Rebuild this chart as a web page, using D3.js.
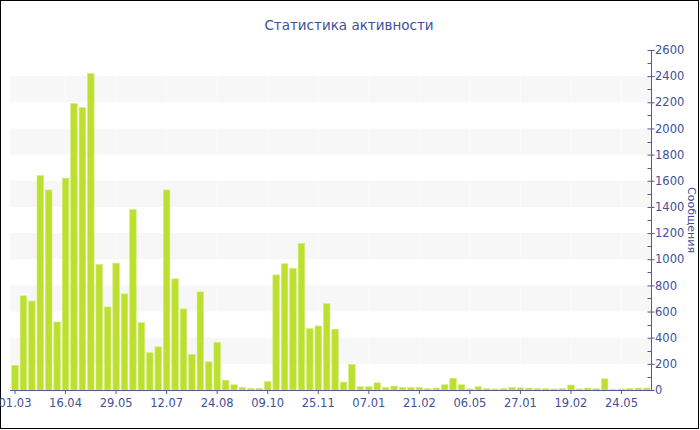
<!DOCTYPE html>
<html><head><meta charset="utf-8">
<script src="https://cdn.jsdelivr.net/npm/d3@7"></script>
<style>body{margin:0;background:#fff}svg{display:block}</style>
</head><body>
<script>
const values = [190,720,680,1640,1530,520,1620,2190,2160,2420,960,635,970,735,1380,515,285,330,1530,850,620,270,750,215,365,75,40,20,12,12,65,880,965,930,1120,470,490,660,465,60,195,25,25,55,20,30,20,18,20,10,15,40,90,40,8,25,10,8,12,20,17,15,12,10,8,12,38,8,15,10,85,5,8,12,15,15];
const tickLabels = ["01.03","16.04","29.05","12.07","24.08","09.10","25.11","07.01","21.02","06.05","27.01","19.02","24.05"];
const tickEvery = 6;
const yTicks = [0,200,400,600,800,1000,1200,1400,1600,1800,2000,2200,2400,2600];
const title = "Статистика активности";
const yTitle = "Сообщения";

const W = 700, H = 430;
const axisColor = "#4b5b9b", textColor = "#40519a";
const svg = d3.select("body").append("svg").attr("width", W).attr("height", H);
svg.append("rect").attr("x",0.5).attr("y",0.5).attr("width",698).attr("height",428)
  .attr("fill","#fff").attr("stroke","#000");

const cats = values.map((v,i)=>i);
const x = d3.scaleBand().domain(cats).range([10.8, 651]).paddingInner(0.22).paddingOuter(0.11);
const y = d3.scaleLinear().domain([0,2600]).range([390,50]);

// grid bands
const bands = [];
for (let i=0;i<yTicks.length-1;i++) if (i%2===1) bands.push([yTicks[i], yTicks[i+1]]);
svg.append("g").selectAll("rect").data(bands).join("rect")
  .attr("x",10).attr("width",641)
  .attr("y",d=>y(d[1])).attr("height",d=>y(d[0])-y(d[1]))
  .attr("fill","#f7f7f7");

const tickCats = cats.filter(i=>i%tickEvery===0);
svg.append("g").selectAll("line").data(tickCats).join("line")
  .attr("x1",d=>x(d)+x.bandwidth()/2).attr("x2",d=>x(d)+x.bandwidth()/2)
  .attr("y1",50).attr("y2",390).attr("stroke","#fff").attr("stroke-opacity",0.6);

// bars
svg.append("g").selectAll("rect").data(values).join("rect")
  .attr("x",(d,i)=>x(i)).attr("width",x.bandwidth())
  .attr("y",d=>y(d)).attr("height",d=>390-y(d))
  .attr("fill","#bde030").attr("stroke","#d4ec7a").attr("stroke-width",0.6);

// x axis
const xAxis = d3.axisBottom(x).tickValues(tickCats)
  .tickFormat(d=>tickLabels[d/tickEvery]).tickSize(4).tickSizeOuter(0);
const gx = svg.append("g").attr("transform","translate(0,390)").call(xAxis);
gx.select(".domain").attr("stroke",axisColor).attr("d","M10,0.5H651");
gx.selectAll(".tick line").attr("stroke",axisColor).attr("stroke-width",1);
gx.selectAll(".tick text").attr("fill",textColor).attr("font-family","DejaVu Sans").attr("font-size","11.5px").attr("dy","0.9em");

// y axis right
const yAxis = d3.axisRight(y).tickValues(yTicks).tickFormat(d3.format("d")).tickSize(0).tickPadding(4).tickSizeOuter(0);
const gy = svg.append("g").attr("transform","translate(651,0)").call(yAxis);
gy.select(".domain").attr("stroke",axisColor);
gy.selectAll(".tick text").attr("fill",textColor).attr("font-family","DejaVu Sans").attr("font-size","11.5px");
gy.selectAll(".tick").append("line").attr("x1",-3.5).attr("x2",3.5).attr("stroke",axisColor);
const minor = d3.range(100,2600,200);
gy.append("g").selectAll("line").data(minor).join("line")
  .attr("x1",-3.5).attr("x2",0).attr("y1",d=>Math.round(y(d))+0.5).attr("y2",d=>Math.round(y(d))+0.5)
  .attr("stroke",axisColor);

// titles
svg.append("text").attr("x",349).attr("y",30).attr("text-anchor","middle")
  .attr("fill",textColor).attr("font-family","DejaVu Sans").attr("font-size","13.5px").text(title);
svg.append("text").attr("transform","translate(688,220) rotate(90)").attr("text-anchor","middle")
  .attr("fill",textColor).attr("font-family","DejaVu Sans").attr("font-size","11px").text(yTitle);
</script>
</body></html>
